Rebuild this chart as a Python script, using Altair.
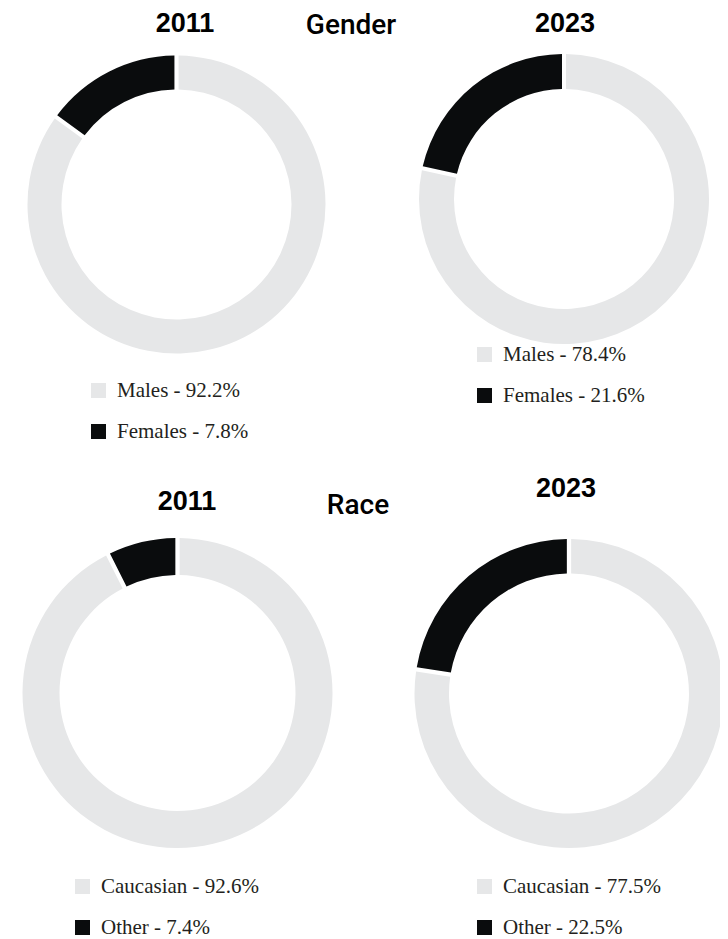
import altair as alt
import pandas as pd

# ---- data ----
gender_labels_2011 = ["Males - 92.2%", "Females - 7.8%"]
gender_arc_2011 = [85.0, 15.0]          # slice sizes as drawn in the picture
gender_labels_2023 = ["Males - 78.4%", "Females - 21.6%"]
gender_arc_2023 = [78.4, 21.6]
race_labels_2011 = ["Caucasian - 92.6%", "Other - 7.4%"]
race_arc_2011 = [92.6, 7.4]
race_labels_2023 = ["Caucasian - 77.5%", "Other - 22.5%"]
race_arc_2023 = [77.5, 22.5]

GRAY = "#e6e7e8"
BLACK = "#0a0c0d"
OFF = 8  # page margin


def donut(labels, values, cx, cy, ro, ri, lx, ly):
    df = pd.DataFrame({"label": labels, "value": values, "idx": list(range(len(labels)))})
    return alt.Chart(df).mark_arc(
        outerRadius=ro, innerRadius=ri, padAngle=0.022
    ).encode(
        theta=alt.Theta("value:Q", stack=True),
        order=alt.Order("idx:Q"),
        color=alt.Color(
            "label:N",
            scale=alt.Scale(domain=labels, range=[GRAY, BLACK]),
            legend=alt.Legend(
                title=None, orient="none", legendX=lx - OFF, legendY=ly - OFF,
                symbolType="square", symbolSize=225, symbolStrokeWidth=0,
                labelFont="Liberation Serif", labelFontSize=21, labelColor="#231f20",
                labelOffset=8, rowPadding=19, padding=0, labelLimit=400,
            ),
        ),
        x=alt.value(cx - OFF),
        y=alt.value(cy - OFF),
    )


def title(text, x, y, weight, font, size):
    return alt.Chart(pd.DataFrame({"t": [text]})).mark_text(
        font=font, fontSize=size, fontWeight=weight, color="#000000",
        align="center", baseline="alphabetic",
    ).encode(text="t:N", x=alt.value(x - OFF), y=alt.value(y - OFF))


layers = [
    donut(gender_labels_2011, gender_arc_2011, 176.5, 204.5, 149, 115, 88, 380),
    donut(gender_labels_2023, gender_arc_2023, 564, 199, 145, 110, 474, 344),
    donut(race_labels_2011, race_arc_2011, 177.5, 693, 155, 118, 72, 876),
    donut(race_labels_2023, race_arc_2023, 569, 693.5, 154.5, 120, 474, 876),
    title("2011", 185, 32, "bold", "Liberation Sans", 27),
    title("Gender", 351, 34, 500, "Roboto", 28),
    title("2023", 565, 32, "bold", "Liberation Sans", 27),
    title("2011", 187, 510, "bold", "Liberation Sans", 27),
    title("Race", 358, 514, 500, "Roboto", 28),
    title("2023", 566, 497, "bold", "Liberation Sans", 27),
]

chart = alt.layer(*layers).resolve_scale(
    theta="independent", color="independent"
).properties(
    width=712, height=931, padding=0, autosize=alt.AutoSizeParams(type="none")
).configure_view(stroke=None)

chart.save("out.html", embed_options={"renderer": "svg", "actions": False})
